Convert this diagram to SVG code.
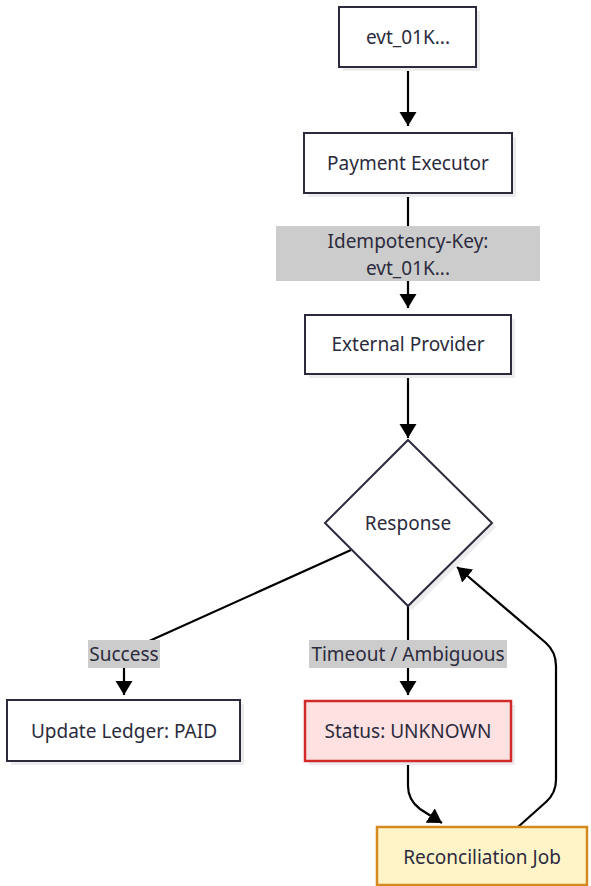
<svg xmlns="http://www.w3.org/2000/svg" width="591" height="886" viewBox="0 0 591 886">
<style>
  .node rect, .node polygon { fill: #ffffff; stroke: #2b2b3d; stroke-width: 2; }
  .node .shadow { fill: #ececef; stroke: none; }
  .txt { font-family: "Noto Sans", "DejaVu Sans", sans-serif; font-size: 19px; fill: #2b2b3d; text-anchor: middle; }
  .edge { fill: none; stroke: #000000; stroke-width: 2.2; }
  .lbl { fill: #cccccc; stroke: none; }
  #status rect.box { fill: #ffe1e1; stroke: #d02a2a; stroke-width: 2.5; }
  #recon rect.box { fill: #fff4c8; stroke: #d48a1e; stroke-width: 2.5; }
</style>
<defs>
  <marker id="arrow" markerUnits="userSpaceOnUse" markerWidth="18" markerHeight="18" refX="14" refY="8.5" orient="auto">
    <path d="M0,0 L14,8.5 L0,17 z" fill="#000000"/>
  </marker>
</defs>
<rect width="591" height="886" fill="#ffffff"/>

<g id="connectors">
  <path class="edge" d="M408,67 L408,126" marker-end="url(#arrow)"/>
  <path class="edge" d="M408,193 L408,308" marker-end="url(#arrow)"/>
  <path class="edge" d="M408,374 L408,438" marker-end="url(#arrow)"/>
  <path class="edge" d="M351,550 L136,647 Q124,653 124,666 L124,695" marker-end="url(#arrow)"/>
  <path class="edge" d="M408,606 L408,695" marker-end="url(#arrow)"/>
  <path class="edge" d="M408,761 L408,786 Q408,800 420,809 L442,823" marker-end="url(#arrow)"/>
  <path class="edge" d="M518,827 L546,802 Q556,793 556,780 L556,666 Q556,652 546,643 L457,567" marker-end="url(#arrow)"/>
  <g id="edge-labels">
    <rect class="lbl" x="276" y="226" width="264" height="55"/>
    <text class="txt" x="408" y="248">Idempotency-Key:</text>
    <text class="txt" x="408" y="275">evt_01K...</text>
    <rect class="lbl" x="88" y="640" width="72" height="28"/>
    <text class="txt" x="124" y="661">Success</text>
    <rect class="lbl" x="309" y="640" width="198" height="28"/>
    <text class="txt" x="408" y="661">Timeout / Ambiguous</text>
  </g>
</g>

<g id="evt" class="node">
  <rect class="shadow" x="343" y="11" width="137" height="60"/>
  <rect x="339" y="7" width="137" height="60"/>
  <text class="txt" x="408" y="44">evt_01K...</text>
</g>
<g id="executor" class="node">
  <rect class="shadow" x="308" y="137" width="208" height="60"/>
  <rect x="304" y="133" width="208" height="60"/>
  <text class="txt" x="408" y="170">Payment Executor</text>
</g>
<g id="provider" class="node">
  <rect class="shadow" x="309" y="319" width="206" height="59"/>
  <rect x="305" y="315" width="206" height="59"/>
  <text class="txt" x="408" y="351">External Provider</text>
</g>
<g id="response" class="node">
  <polygon class="shadow" points="412,444 496,527 412,610 329,527"/>
  <polygon points="408,440 492,523 408,606 325,523"/>
  <text class="txt" x="408" y="530">Response</text>
</g>
<g id="ledger" class="node">
  <rect class="shadow" x="11" y="704" width="233" height="61"/>
  <rect x="7" y="700" width="233" height="61"/>
  <text class="txt" x="124" y="738">Update Ledger: PAID</text>
</g>
<g id="status" class="node">
  <rect class="shadow" x="309" y="705" width="206" height="60"/>
  <rect class="box" x="305" y="701" width="206" height="60"/>
  <text class="txt" x="408" y="738">Status: UNKNOWN</text>
</g>
<g id="recon" class="node">
  <rect class="box" x="377" y="827" width="210" height="58"/>
  <text class="txt" x="482" y="864">Reconciliation Job</text>
</g>
</svg>
